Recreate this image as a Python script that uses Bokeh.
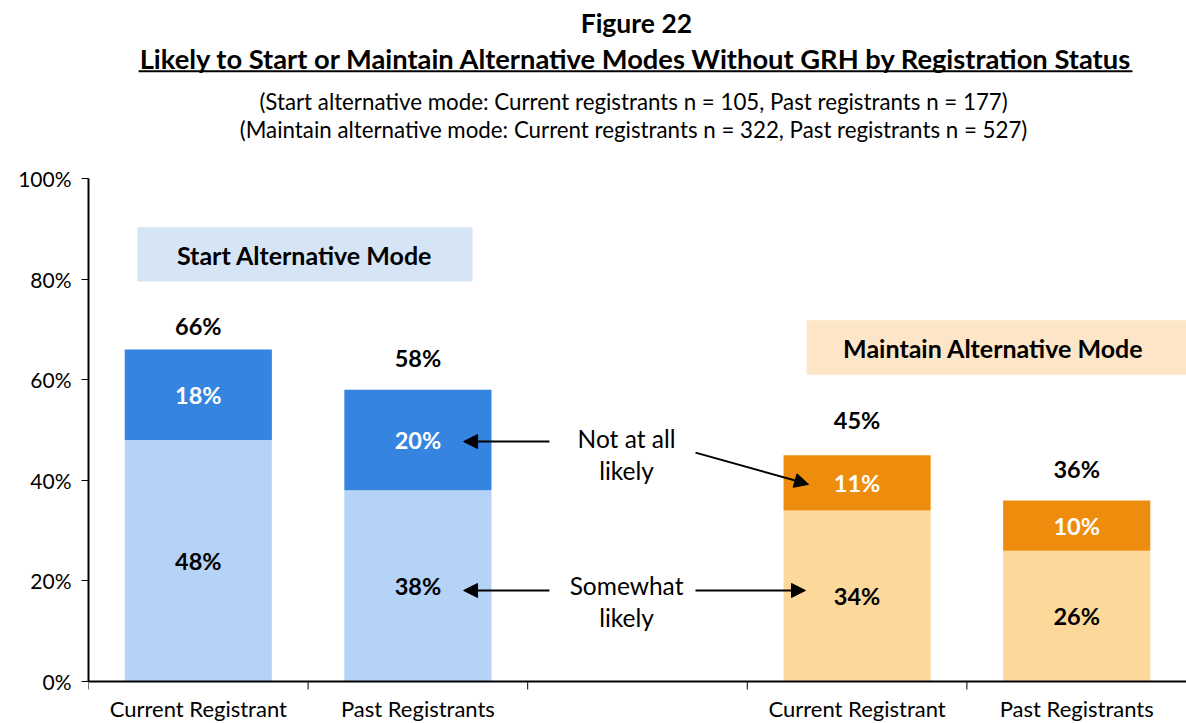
from bokeh.plotting import figure
from bokeh.models import (Range1d, FixedTicker, PrintfTickFormatter, Arrow, NormalHead,
                          ColumnDataSource, Span)
from bokeh.core.properties import value
from bokeh.embed import file_html
from bokeh.resources import INLINE

FONT = "Lato"

# ---- data ----
categories = ["Current Registrant", "Past Registrants", "Current Registrant", "Past Registrants"]
slots = [0, 1, 3, 4]                     # slot index of each bar (slot 2 is the gap)
slot_edges = [0, 1, 2, 3, 4, 5]
somewhat_likely = [48, 38, 34, 26]
not_at_all_likely = [18, 20, 11, 10]
totals = [66, 58, 45, 36]
light_colors = ["#B5D3F6", "#B5D3F6", "#FDD89B", "#FDD89B"]
dark_colors = ["#3484E0", "#3484E0", "#EE8C0E", "#EE8C0E"]
y_ticks = [0, 20, 40, 60, 80, 100]

title1 = "Figure 22"
title2 = "Likely to Start or Maintain Alternative Modes Without GRH by Registration Status"
sub1 = "(Start alternative mode:  Current registrants n = 105, Past registrants n = 177)"
sub2 = "(Maintain alternative mode:  Current registrants n = 322, Past registrants n = 527)"

# label placement (pixels above bar top)
total_label_offsets = [-24, -32, -35, -31]

W, H = 1186, 723
PX = 5.03  # pixels per percentage point
p = figure(width=W, height=H, output_backend="svg", toolbar_location=None,
           x_range=Range1d(0, 5), y_range=Range1d(-(H - 681) / PX, 681 / PX),
           x_axis_location=None,
           min_border_left=88, min_border_right=0, min_border_top=0, min_border_bottom=0)
p.outline_line_color = None
p.xgrid.grid_line_color = None
p.ygrid.grid_line_color = None
p.background_fill_color = "white"
p.border_fill_color = "white"

xc = [s + 0.5 for s in slots]
bw = 0.67
src = ColumnDataSource(dict(
    x=xc, low=[0] * 4, mid=somewhat_likely,
    top=[a + b for a, b in zip(somewhat_likely, not_at_all_likely)],
    lc=light_colors, dc=dark_colors,
    lab1=[f"{v}%" for v in somewhat_likely], y1=[v / 2 for v in somewhat_likely],
    lab2=[f"{v}%" for v in not_at_all_likely],
    y2=[a + b / 2 for a, b in zip(somewhat_likely, not_at_all_likely)],
    labt=[f"{v}%" for v in totals], yt=totals, yo=total_label_offsets,
))

p.vbar(x="x", bottom="low", top="mid", width=bw, fill_color="lc", line_color=None, source=src)
p.vbar(x="x", bottom="mid", top="top", width=bw, fill_color="dc", line_color=None, source=src)

BAR_FS = "23.5px"
p.text(x="x", y="y1", text="lab1", source=src, text_font=value(FONT), text_font_style="bold",
       text_font_size=BAR_FS, text_align="center", text_baseline="middle", text_color="black")
p.text(x="x", y="y2", text="lab2", source=src, text_font=value(FONT), text_font_style="bold",
       text_font_size=BAR_FS, text_align="center", text_baseline="middle", text_color="white")
p.text(x="x", y="yt", text="labt", source=src, text_font=value(FONT), text_font_style="bold",
       text_font_size=BAR_FS, text_align="center", text_baseline="middle", text_color="black",
       y_offset="yo")

# header boxes
p.quad(left=[0.223], right=[1.749], bottom=[79.5], top=[90.3], fill_color="#D6E5F6", line_color=None)
p.quad(left=[3.27], right=[5.0], bottom=[61.0], top=[71.8], fill_color="#FDE5C8", line_color=None)
p.text(x=[0.984], y=[84.8], text=["Start Alternative Mode"], text_font=value(FONT),
       text_font_style="bold", text_font_size="25px", text_align="center", text_baseline="middle")
p.text(x=[4.12], y=[66.3], text=["Maintain Alternative Mode"], text_font=value(FONT),
       text_font_style="bold", text_font_size="25px", text_align="center", text_baseline="middle")

# titles
cx = 2.495
p.text(x=[cx], y=[131.0], text=[title1], text_font=value(FONT), text_font_style="bold",
       text_font_size="26.5px", text_align="center", text_baseline="middle")
p.text(x=[cx], y=[123.9], text=[title2], text_font=value(FONT), text_font_style="bold",
       text_font_size="27.3px", text_align="center", text_baseline="middle")
p.segment(x0=[0.228], x1=[4.754], y0=[121.3], y1=[121.3], line_color="black", line_width=2)
p.text(x=[cx], y=[115.3], text=[sub1], text_font=value(FONT), text_font_size="22.3px",
       text_align="center", text_baseline="middle")
p.text(x=[cx], y=[109.7], text=[sub2], text_font=value(FONT), text_font_size="22.3px",
       text_align="center", text_baseline="middle")

# annotations
ANN_FS = "24.5px"
p.text(x=[2.45, 2.45], y=[48.3, 41.95], text=["Not at all", "likely"], text_font=value(FONT),
       text_font_size=ANN_FS, text_align="center", text_baseline="middle")
p.text(x=[2.45, 2.45], y=[19.1, 12.7], text=["Somewhat", "likely"], text_font=value(FONT),
       text_font_size=ANN_FS, text_align="center", text_baseline="middle")
for (x0, y0, x1, y1) in [(2.099, 47.7, 1.708, 47.7), (2.764, 45.5, 3.279, 39.2),
                         (2.099, 18.1, 1.708, 18.1), (2.764, 18.1, 3.265, 18.1)]:
    p.add_layout(Arrow(x_start=x0, y_start=y0, x_end=x1, y_end=y1, line_width=2, line_color="black",
                       end=NormalHead(size=14, fill_color="black", line_color="black")))

# x axis drawn at y = 0: line, boundary ticks, category labels
p.add_layout(Span(location=0, dimension="width", line_color="black", line_width=2))
p.segment(x0=slot_edges, x1=slot_edges, y0=[0] * len(slot_edges), y1=[-8 / PX] * len(slot_edges),
          line_color="black", line_width=1)
p.text(x=xc, y=[-(708 - 681) / PX] * len(xc), text=categories, text_font=value(FONT),
       text_font_size="22px", text_align="center", text_baseline="middle", text_color="black")

# y axis
p.yaxis.ticker = FixedTicker(ticks=y_ticks)
p.yaxis.formatter = PrintfTickFormatter(format="%d%%")
p.yaxis.bounds = (0, 100)
p.yaxis.axis_line_width = 2
p.yaxis.axis_line_color = "black"
p.yaxis.major_tick_out = 7
p.yaxis.major_tick_in = 0
p.yaxis.minor_tick_line_color = None
p.yaxis.major_label_text_font = FONT
p.yaxis.major_label_text_font_size = "21px"
p.yaxis.major_label_text_color = "black"
p.yaxis.major_label_standoff = 10

open("out.html", "w").write(file_html(p, INLINE))
